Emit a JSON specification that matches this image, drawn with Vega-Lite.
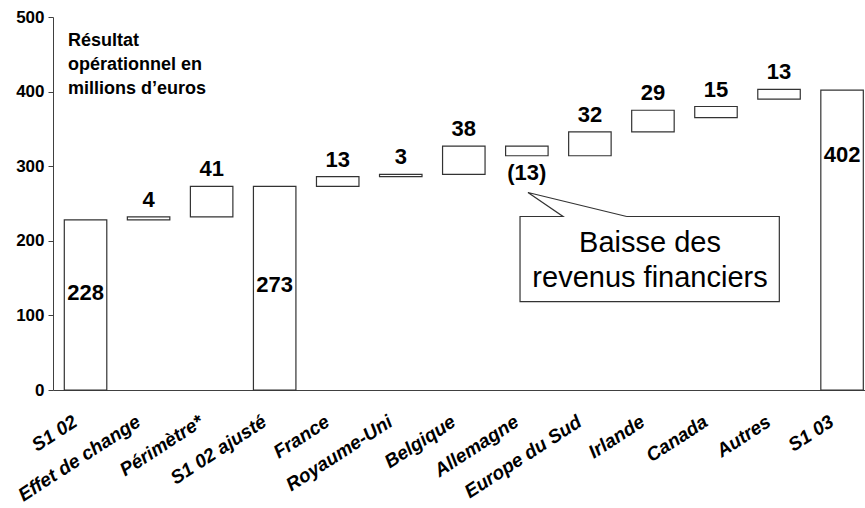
{
  "$schema": "https://vega.github.io/schema/vega-lite/v6.json",
  "description": "Waterfall: résultat opérationnel S1 02 -> S1 03",
  "width": 812,
  "height": 373,
  "autosize": {"type": "none"},
  "padding": {"left": 53, "top": 17, "right": 0, "bottom": 118},
  "background": "white",
  "datasets": {
    "bars": [
      {"cat": "S1 02", "start": 0, "end": 228, "label": "228", "kind": "total", "label_y": 130},
      {"cat": "Effet de change", "start": 228, "end": 232, "label": "4", "kind": "up"},
      {"cat": "Périmètre*", "start": 232, "end": 273, "label": "41", "kind": "up"},
      {"cat": "S1 02 ajusté", "start": 0, "end": 273, "label": "273", "kind": "total", "label_y": 141},
      {"cat": "France", "start": 273, "end": 286, "label": "13", "kind": "up"},
      {"cat": "Royaume-Uni", "start": 286, "end": 289, "label": "3", "kind": "up"},
      {"cat": "Belgique", "start": 289, "end": 327, "label": "38", "kind": "up"},
      {"cat": "Allemagne", "start": 327, "end": 314, "label": "(13)", "kind": "down"},
      {"cat": "Europe du Sud", "start": 314, "end": 346, "label": "32", "kind": "up"},
      {"cat": "Irlande", "start": 346, "end": 375, "label": "29", "kind": "up"},
      {"cat": "Canada", "start": 365, "end": 380, "label": "15", "kind": "up"},
      {"cat": "Autres", "start": 390, "end": 403, "label": "13", "kind": "up"},
      {"cat": "S1 03", "start": 0, "end": 402, "label": "402", "kind": "total", "label_y": 315}
    ],
    "callout": [
      {"step": 1, "i": 8.584, "v": 232.6},
      {"step": 2, "i": 11.005, "v": 232.6},
      {"step": 3, "i": 11.005, "v": 118.5},
      {"step": 4, "i": 6.892, "v": 118.5},
      {"step": 5, "i": 6.892, "v": 232.6},
      {"step": 6, "i": 7.574, "v": 232.6},
      {"step": 7, "i": 7.018, "v": 264.8},
      {"step": 8, "i": 8.584, "v": 232.6}
    ],
    "notes": [
      {"kind": "callout", "i": 8.954, "v": 185.6, "text": "Baisse des"},
      {"kind": "callout", "i": 8.954, "v": 138.7, "text": "revenus financiers"},
      {"kind": "title", "i": -0.278, "v": 460.8, "text": "Résultat"},
      {"kind": "title", "i": -0.278, "v": 428.6, "text": "opérationnel en"},
      {"kind": "title", "i": -0.278, "v": 396.4, "text": "millions d’euros"}
    ]
  },
  "layer": [
    {
      "data": {"name": "bars"},
      "encoding": {
        "x": {
          "field": "cat",
          "type": "nominal",
          "sort": null,
          "title": null,
          "scale": {"paddingInner": 0.326, "paddingOuter": 0.103, "align": 0.87},
          "axis": {
            "ticks": false,
            "domainColor": "#404040",
            "labelFont": "Liberation Sans",
            "labelFontWeight": "bold",
            "labelFontStyle": "italic",
            "labelFontSize": 19,
            "labelColor": "black",
            "labelAngle": -33,
            "labelAlign": "right",
            "labelBaseline": "top",
            "labelPadding": 22,
            "labelOffset": -15,
            "labelOverlap": false,
            "labelLimit": 0
          }
        }
      },
      "layer": [
        {
          "mark": {"type": "bar", "fill": "white", "stroke": "#333333", "strokeWidth": 1.2},
          "encoding": {
            "y": {
              "field": "start",
              "type": "quantitative",
              "title": null,
              "scale": {"domain": [0, 500], "nice": false},
              "axis": {
                "values": [0, 100, 200, 300, 400, 500],
                "grid": false,
                "domainColor": "#404040",
                "tickColor": "#404040",
                "tickSize": 5,
                "labelPadding": 4,
                "labelFont": "Liberation Sans",
                "labelFontWeight": "bold",
                "labelFontSize": 17,
                "labelColor": "black"
              }
            },
            "y2": {"field": "end"}
          }
        },
        {
          "transform": [{"filter": "datum.kind == 'up'"}],
          "mark": {"type": "text", "font": "Liberation Sans", "fontWeight": "bold", "fontSize": 22, "baseline": "alphabetic", "dy": -10, "color": "black"},
          "encoding": {
            "y": {"field": "end", "type": "quantitative", "scale": {"domain": [0, 500], "nice": false}},
            "text": {"field": "label"}
          }
        },
        {
          "transform": [{"filter": "datum.kind == 'down'"}],
          "mark": {"type": "text", "font": "Liberation Sans", "fontWeight": "bold", "fontSize": 22, "baseline": "top", "dy": 7, "color": "black"},
          "encoding": {
            "y": {"field": "end", "type": "quantitative", "scale": {"domain": [0, 500], "nice": false}},
            "text": {"field": "label"}
          }
        },
        {
          "transform": [{"filter": "datum.kind == 'total'"}],
          "mark": {"type": "text", "font": "Liberation Sans", "fontWeight": "bold", "fontSize": 22, "baseline": "middle", "color": "black"},
          "encoding": {
            "y": {"field": "label_y", "type": "quantitative", "scale": {"domain": [0, 500], "nice": false}},
            "text": {"field": "label"}
          }
        }
      ]
    },
    {
      "encoding": {
        "x": {"field": "i", "type": "quantitative", "scale": {"domain": [-0.516, 12.364], "nice": false, "zero": false}, "axis": null},
        "y": {"field": "v", "type": "quantitative", "scale": {"domain": [0, 500], "nice": false}, "axis": null}
      },
      "layer": [
        {
          "data": {"name": "callout"},
          "mark": {"type": "line", "stroke": "#333333", "strokeWidth": 1.2},
          "encoding": {"order": {"field": "step", "type": "quantitative"}}
        },
        {
          "data": {"name": "notes"},
          "transform": [{"filter": "datum.kind == 'callout'"}],
          "mark": {"type": "text", "font": "Liberation Sans", "fontSize": 29, "align": "center", "baseline": "alphabetic", "color": "black"},
          "encoding": {"text": {"field": "text"}}
        },
        {
          "data": {"name": "notes"},
          "transform": [{"filter": "datum.kind == 'title'"}],
          "mark": {"type": "text", "font": "Liberation Sans", "fontWeight": "bold", "fontSize": 18, "align": "left", "baseline": "alphabetic", "color": "black"},
          "encoding": {"text": {"field": "text"}}
        }
      ]
    }
  ],
  "resolve": {"scale": {"x": "independent", "y": "independent"}},
  "config": {"view": {"stroke": null}}
}
